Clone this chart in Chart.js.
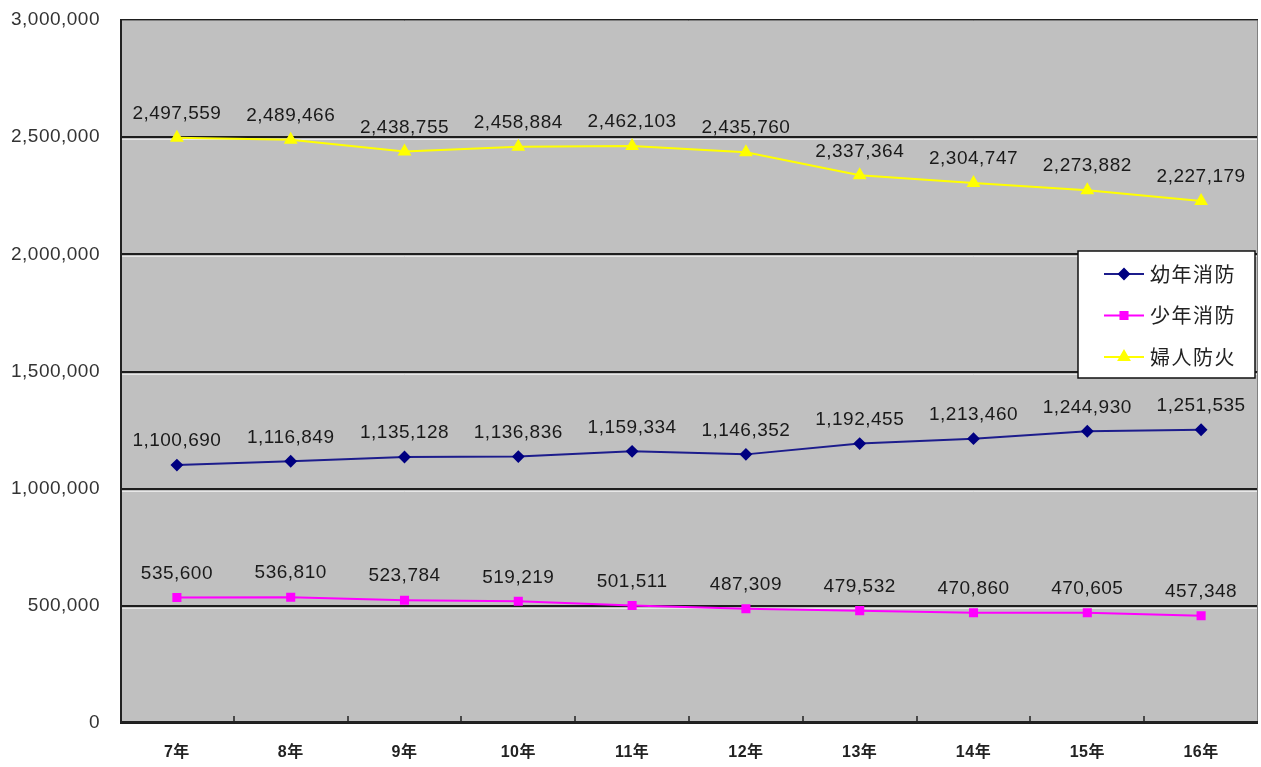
<!DOCTYPE html>
<html>
<head>
<meta charset="utf-8">
<script src="https://cdn.jsdelivr.net/npm/chart.js@4"></script>
<style>
  html, body { margin: 0; padding: 0; background: #fff; }
  #wrap { width: 1261px; height: 767px; }
</style>
</head>
<body>
<div id="wrap"><canvas id="myChart" width="1261" height="767"></canvas></div>
<script>
// DATA
const years = ["7年", "8年", "9年", "10年", "11年", "12年", "13年", "14年", "15年", "16年"];
const youthFire = [1100690, 1116849, 1135128, 1136836, 1159334, 1146352, 1192455, 1213460, 1244930, 1251535];
const juniorFire = [535600, 536810, 523784, 519219, 501511, 487309, 479532, 470860, 470605, 457348];
const womenFire = [2497559, 2489466, 2438755, 2458884, 2462103, 2435760, 2337364, 2304747, 2273882, 2227179];
const seriesNames = ["幼年消防", "少年消防", "婦人防火"];
const yTicks = [0, 500000, 1000000, 1500000, 2000000, 2500000, 3000000];

const FONT = "'Liberation Sans', Arial, 'Noto Sans CJK JP', sans-serif";
const fmt = (v) => v.toLocaleString("en-US");

// plot background + frame + grid shadow lines, data labels, legend box
const framePlugin = {
  id: "frame",
  beforeDraw(chart) {
    const { ctx, chartArea: a } = chart;
    ctx.letterSpacing = "0.5px";
    ctx.save();
    ctx.fillStyle = "#c0c0c0";
    ctx.fillRect(a.left, a.top, a.right - a.left, a.bottom - a.top);
    // light line under each gridline
    const y = chart.scales.y;
    ctx.strokeStyle = "#e8e8e8";
    ctx.lineWidth = 1;
    yTicks.slice(1, -1).forEach((t) => {
      const py = Math.round(y.getPixelForValue(t)) + 2.5;
      ctx.beginPath();
      ctx.moveTo(a.left, py);
      ctx.lineTo(a.right, py);
      ctx.stroke();
    });
    ctx.restore();
  },
  beforeDatasetsDraw(chart) {
    const { ctx, chartArea: a } = chart;
    const x = chart.scales.x;
    ctx.save();
    // top and right border
    ctx.strokeStyle = "#808080";
    ctx.lineWidth = 1;
    ctx.beginPath();
    ctx.moveTo(a.left, a.top + 0.5);
    ctx.lineTo(a.right - 0.5, a.top + 0.5);
    ctx.lineTo(a.right - 0.5, a.bottom);
    ctx.stroke();
    // left and bottom axis
    ctx.strokeStyle = "#222";
    ctx.lineWidth = 2;
    ctx.beginPath();
    ctx.moveTo(a.left + 1, a.top);
    ctx.lineTo(a.left + 1, a.bottom - 1);
    ctx.lineTo(a.right, a.bottom - 1);
    ctx.stroke();
    // inward tick marks between categories
    ctx.lineWidth = 1.5;
    for (let i = 0; i < years.length - 1; i++) {
      const px = Math.round((x.getPixelForValue(i) + x.getPixelForValue(i + 1)) / 2);
      ctx.beginPath();
      ctx.moveTo(px, a.bottom - 1);
      ctx.lineTo(px, a.bottom - 7);
      ctx.stroke();
    }
    ctx.restore();
  },
  afterDatasetsDraw(chart) {
    const { ctx } = chart;
    ctx.save();
    ctx.font = "19px " + FONT;
    ctx.letterSpacing = "0.5px";
    ctx.fillStyle = "#1a1a1a";
    ctx.textAlign = "center";
    ctx.textBaseline = "middle";
    chart.data.datasets.forEach((ds, di) => {
      const meta = chart.getDatasetMeta(di);
      meta.data.forEach((pt, i) => {
        ctx.fillText(fmt(ds.data[i]), pt.x, pt.y - 24);
      });
    });
    ctx.restore();
  },
  afterDraw(chart) {
    // legend box inside plot
    const { ctx, chartArea: a } = chart;
    const bx = a.right - 180, by = a.top + 231, bw = 177, bh = 127;
    ctx.save();
    ctx.fillStyle = "#fff";
    ctx.fillRect(bx, by, bw, bh);
    ctx.strokeStyle = "#111";
    ctx.lineWidth = 1.5;
    ctx.strokeRect(bx, by, bw, bh);
    chart.data.datasets.forEach((ds, i) => {
      const cy = by + 23 + i * 41.5;
      ctx.strokeStyle = ds.borderColor;
      ctx.lineWidth = 2;
      ctx.beginPath();
      ctx.moveTo(bx + 26, cy);
      ctx.lineTo(bx + 66, cy);
      ctx.stroke();
      ctx.fillStyle = ds.pointBackgroundColor;
      ctx.strokeStyle = ds.pointBackgroundColor;
      Chart.helpers.drawPoint(ctx, {
        pointStyle: ds.pointStyle,
        radius: ds.pointRadius,
        borderWidth: 1,
        rotation: 0
      }, bx + 46, cy);
      ctx.fillStyle = "#222";
      ctx.font = "20px 'Noto Sans CJK JP', sans-serif";
      ctx.letterSpacing = "1.5px";
      ctx.textAlign = "left";
      ctx.textBaseline = "middle";
      ctx.fillText(ds.label, bx + 72, cy);
    });
    ctx.restore();
  }
};

const ctx = document.getElementById("myChart").getContext("2d");
const chart = new Chart(ctx, {
  type: "line",
  data: {
    labels: years,
    datasets: [
      {
        label: seriesNames[0],
        data: youthFire,
        borderColor: "#1c1c8c",
        backgroundColor: "#000080",
        pointBackgroundColor: "#000080",
        pointBorderColor: "#000080",
        pointStyle: "rectRot",
        pointRadius: 5,
        borderWidth: 2
      },
      {
        label: seriesNames[1],
        data: juniorFire,
        borderColor: "#ff00ff",
        backgroundColor: "#ff00ff",
        pointBackgroundColor: "#ff00ff",
        pointBorderColor: "#ff00ff",
        pointStyle: "rect",
        pointRadius: 5,
        borderWidth: 2
      },
      {
        label: seriesNames[2],
        data: womenFire,
        borderColor: "#ffff00",
        backgroundColor: "#ffff00",
        pointBackgroundColor: "#ffff00",
        pointBorderColor: "#ffff00",
        pointStyle: "triangle",
        pointRadius: 6,
        borderWidth: 2
      }
    ]
  },
  options: {
    responsive: false,
    animation: false,
    layout: { autoPadding: false, padding: { top: 20, right: 3, left: 0, bottom: 0 } },
    plugins: {
      legend: { display: false },
      tooltip: { enabled: false }
    },
    scales: {
      x: {
        offset: true,
        grid: { display: false },
        border: { display: false },
        ticks: {
          color: "#222",
          font: { family: FONT, size: 16, weight: "bold" },
          padding: 12,
          maxRotation: 0
        },
        afterFit: (s) => {
          s.height = 44;
          s.paddingLeft = 0;
          s.paddingRight = 0;
        }
      },
      y: {
        min: 0,
        max: 3000000,
        afterBuildTicks: (s) => { s.ticks = yTicks.map((v) => ({ value: v })); },
        grid: { color: "#1e1e1e", lineWidth: 2, drawTicks: false },
        border: { display: false },
        ticks: {
          color: "#333",
          font: { family: FONT, size: 19 },
          padding: 20,
          callback: (v) => fmt(v)
        },
        afterFit: (s) => {
          s.width = 120;
          s.paddingTop = 0;
          s.paddingBottom = 0;
        }
      }
    }
  },
  plugins: [framePlugin]
});
</script>
</body>
</html>
